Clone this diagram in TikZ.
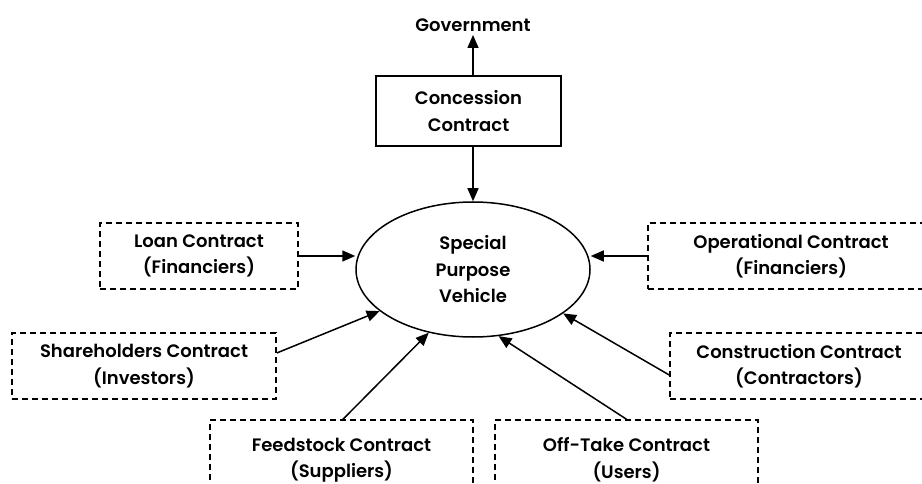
\documentclass[tikz,border=0pt]{standalone}
\usepackage{fontspec}
\IfFontExistsTF{Poppins SemiBold}{\setmainfont{Poppins}[BoldFont={Poppins SemiBold}]}{\setmainfont{Poppins}}
\usetikzlibrary{arrows.meta,shapes.geometric,calc}
\tikzset{
  lbl/.style={font=\fontsize{18}{26.5}\selectfont\bfseries, align=center},
  dbox/.style={lbl, draw, line width=1.5pt, dash pattern=on 6pt off 4pt, inner sep=0pt},
  sbox/.style={lbl, draw, line width=1.5pt, inner sep=0pt},
  arr/.style={line width=1.5pt, -{Triangle[length=13pt,width=11pt]}}
}
\begin{document}
\begin{tikzpicture}[x=1pt,y=-1pt]
\useasboundingbox (0,0) rectangle (922,484);
\clip (0,0) rectangle (922,484);
\fill[white] (0,0) rectangle (922,484);
\node[lbl] (gov) at (473,25) {Government};
\node[sbox, minimum width=185pt, minimum height=70pt] (conc) at (468.5,111) {Concession\\Contract};
\node[ellipse, draw, line width=1.5pt, minimum width=234pt, minimum height=135pt, inner sep=0pt, lbl] (svp) at (473,269.5) {Special\\Purpose\\Vehicle};
\node[dbox, minimum width=198pt, minimum height=66pt] (loan) at (199,256) {Loan Contract\\(Financiers)};
\node[dbox, minimum width=286pt, minimum height=66pt] (op) at (791,256) {Operational Contract\\(Financiers)};
\node[dbox, minimum width=264pt, minimum height=66pt] (sh) at (144,366) {Shareholders Contract\\(Investors)};
\node[dbox, minimum width=258pt, minimum height=66pt] (con) at (799,366) {Construction Contract\\(Contractors)};
\node[dbox, minimum width=263pt, minimum height=80pt] (fs) at (341.5,460) {Feedstock Contract\\(Suppliers)};
\node[dbox, minimum width=263pt, minimum height=80pt] (ot) at (626.5,460) {Off-Take Contract\\(Users)};
\draw[arr] ([xshift=4.5pt]conc.north) -- ([xshift=4.5pt]conc.north |- gov.south);
\draw[arr] ([xshift=4.5pt]conc.south) -- (svp.north);
\draw[arr] (loan.east) -- (loan.east -| svp.west);
\draw[arr] (op.west) -- (op.west -| svp.east);
\draw[arr] ([yshift=13pt]sh.east) -- (svp.204.2);
\draw[arr] ([xshift=1.5pt]fs.north) -- (svp.235.7);
\draw[arr] (ot.north) -- (svp.291.2);
\draw[arr] ([yshift=-9pt]con.west) -- (svp.334.7);
\end{tikzpicture}
\end{document}
